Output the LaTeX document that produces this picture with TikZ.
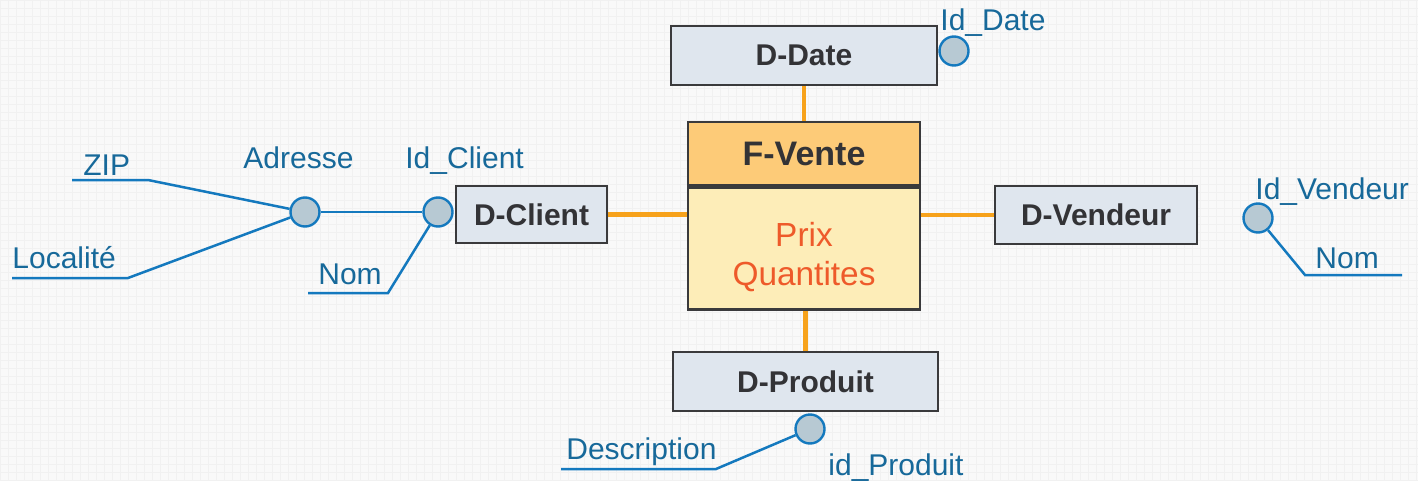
\documentclass[tikz,border=0pt]{standalone}
\usepackage{fontspec}
\setmainfont{Liberation Sans}
\begin{document}
\begin{tikzpicture}[x=0.5pt,y=-0.5pt,
  dimbox/.style={draw=boxline,line width=1.3pt,fill=dimfill,text=boxtext,font=\fontsize{15}{18}\selectfont\bfseries,inner sep=0pt},
  attr/.style={circle,draw=attrline,line width=1.2pt,fill=attrfill,minimum size=14.5pt,inner sep=0pt},
  lbl/.style={text=lbltext,font=\fontsize{15}{18}\selectfont,inner sep=0pt},
  aline/.style={draw=attrline,line width=1.25pt},
  link/.style={draw=linkorange,line width=2.4pt}]
\definecolor{boxline}{HTML}{3A3A3C}
\definecolor{dimfill}{HTML}{DFE6EE}
\definecolor{boxtext}{HTML}{333336}
\definecolor{attrline}{HTML}{1479BE}
\definecolor{attrfill}{HTML}{B7C9D3}
\definecolor{lbltext}{HTML}{17699A}
\definecolor{linkorange}{HTML}{F7A21B}
\definecolor{headfill}{HTML}{FDCB78}
\definecolor{bodyfill}{HTML}{FDEDB8}
\definecolor{redtext}{HTML}{EE5A2A}
\definecolor{bgfill}{HTML}{F9F9F9}
\definecolor{gridc}{HTML}{F1F1F1}
\useasboundingbox (0,0) rectangle (1418,481);
\fill[bgfill] (0,0) rectangle (1418,481);
\draw[gridc,line width=0.3pt,step=4pt] (0,0) grid (1418,481);
% fact table
\node[draw=boxline,line width=1.3pt,fill=headfill,minimum width=116pt,minimum height=31.5pt,inner sep=0pt,
  text=boxtext,font=\fontsize{17}{20}\selectfont\bfseries] (fhead) at (804,153.5) {F-Vente};
\node[draw=boxline,line width=1.3pt,fill=bodyfill,minimum width=116pt,minimum height=61pt,inner sep=0pt,
  anchor=north,text=redtext,font=\fontsize{16.7}{19.5}\selectfont,align=center] (fbody) at (fhead.south) {\\[1pt]Prix\\Quantites};
% dimensions
\node[dimbox,minimum width=133pt,minimum height=29.5pt] (ddate) at (804,55.5) {D-Date};
\node[dimbox,minimum width=75.5pt,minimum height=28.5pt] (dclient) at (531.5,214.5) {D-Client};
\node[dimbox,minimum width=101pt,minimum height=29pt] (dvend) at (1096,215) {D-Vendeur};
\node[dimbox,minimum width=132.5pt,minimum height=29.5pt] (dprod) at (805.5,381.5) {D-Produit};
% links
\draw[link] (ddate.south) -- (ddate.south |- fhead.north);
\draw[link] (dprod.north) -- (dprod.north |- fbody.south);
\draw[link] (dclient.east) -- (dclient.east -| fbody.west);
\draw[link] (dvend.west) -- (dvend.west -| fbody.east);
% attribute circles
\node[attr] (iddate) at (954,51) {};
\node[attr] (idclient) at (438,212) {};
\node[attr] (adr) at (305,212) {};
\node[attr] (idvend) at (1258,218) {};
\node[attr] (idprod) at (810,429) {};
% labels
\node[lbl,anchor=base west] (tiddate) at (940,31) {Id\_Date};
\node[lbl,anchor=base west] (tidclient) at (405,169) {Id\_Client};
\node[lbl,anchor=base west] (tadr) at (243,169) {Adresse};
\node[lbl,anchor=base west] (tzip) at (83,175) {ZIP};
\node[lbl,anchor=base west] (tloc) at (12,268) {Localité};
\node[lbl,anchor=base west] (tnomc) at (318,284) {Nom};
\node[lbl,anchor=base west] (tidvend) at (1255,199) {Id\_Vendeur};
\node[lbl,anchor=base west] (tnomv) at (1315,268) {Nom};
\node[lbl,anchor=base west] (tdesc) at (566,459) {Description};
\node[lbl,anchor=base west] (tidprod) at (828,475) {id\_Produit};
% attribute lines
\coordinate (zipA) at (72,180);
\coordinate (zipB) at (148,180);
\coordinate (locA) at (12,278);
\coordinate (locB) at (128,278);
\coordinate (nomcA) at (308,293);
\coordinate (nomcB) at (388,293);
\coordinate (nomvA) at (1305,275);
\coordinate (nomvB) at (1402,275);
\coordinate (descA) at (561,469);
\coordinate (descB) at (716,469);
\draw[aline] (zipA) -- (zipB) -- (adr);
\draw[aline] (locA) -- (locB) -- (adr);
\draw[aline] (adr) -- (idclient);
\draw[aline] (nomcA) -- (nomcB) -- (idclient);
\draw[aline] (nomvB) -- (nomvA) -- (idvend);
\draw[aline] (descA) -- (descB) -- (idprod);
\end{tikzpicture}
\end{document}
